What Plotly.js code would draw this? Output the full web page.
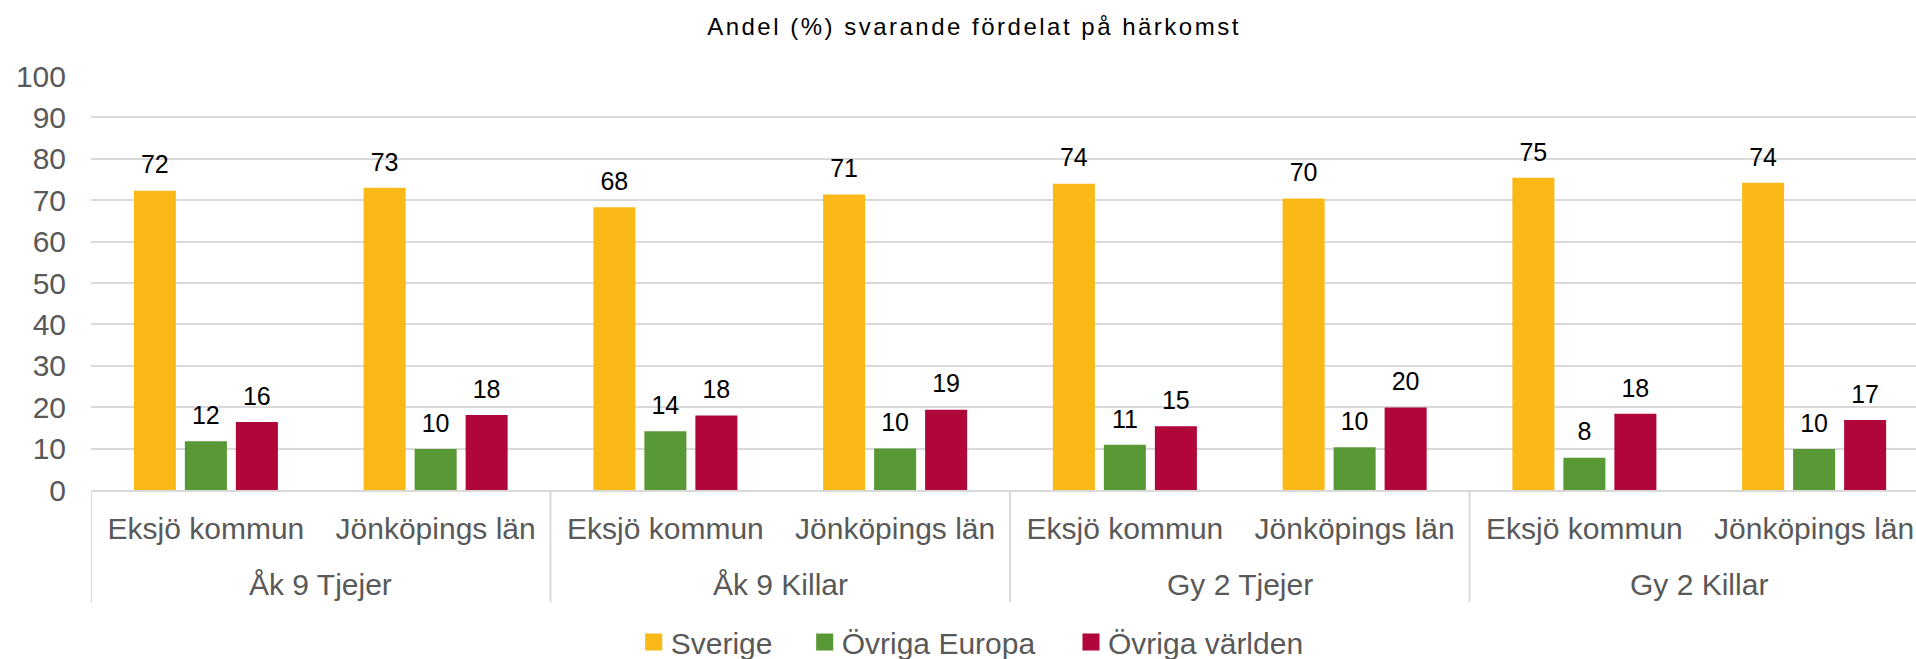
<!DOCTYPE html>
<html>
<head>
<meta charset="utf-8">
<script src="https://cdn.plot.ly/plotly-3.0.1.min.js"></script>
<style>
  html, body { margin: 0; padding: 0; background: #fff; }
  #chart { width: 1916px; height: 659px; }
  .gtitle { letter-spacing: 2.5px; }
  .legendpoints path { transform: translate(23px, 0px) scale(1.42); }
</style>
</head>
<body>
<div id="chart"></div>
<script>
// ---- data ----
const groups = ['Åk 9 Tjejer', 'Åk 9 Tjejer', 'Åk 9 Killar', 'Åk 9 Killar', 'Gy 2 Tjejer', 'Gy 2 Tjejer', 'Gy 2 Killar', 'Gy 2 Killar'];
const areas = ['Eksjö kommun', 'Jönköpings län', 'Eksjö kommun', 'Jönköpings län', 'Eksjö kommun', 'Jönköpings län', 'Eksjö kommun', 'Jönköpings län'];
const seriesNames = ['Sverige', 'Övriga Europa', 'Övriga världen'];
const sverige = [72.3, 73.0, 68.3, 71.4, 74.0, 70.4, 75.4, 74.2];
const ovrigaEuropa = [11.8, 9.9, 14.2, 10.0, 10.9, 10.3, 7.8, 9.9];
const ovrigaVarlden = [16.4, 18.1, 18.0, 19.4, 15.4, 19.9, 18.4, 16.9];
const colors = ['#FBB917', '#589935', '#B00639'];
const titleText = 'Andel (%) svarande fördelat på härkomst';

const FONT = 'Liberation Sans, Arial, sans-serif';
const values = [sverige, ovrigaEuropa, ovrigaVarlden];
const idx = areas.map((_, i) => i);

// group label positions and divider positions derived from the group array
const groupNames = [];
const groupIdx = {};
groups.forEach((g, i) => {
  if (!(g in groupIdx)) { groupIdx[g] = []; groupNames.push(g); }
  groupIdx[g].push(i);
});
const groupCenters = groupNames.map(g => groupIdx[g].reduce((a, b) => a + b, 0) / groupIdx[g].length);
const dividerPos = [-0.5];
groups.forEach((g, i) => { if (i > 0 && g !== groups[i - 1]) dividerPos.push(i - 0.5); });
dividerPos.push(groups.length - 0.5);

const legendX = [670.7, 841.7, 1108];
const traces = [];
values.forEach((v, i) => {
  traces.push({
    type: 'bar',
    name: seriesNames[i],
    x: idx,
    y: v,
    marker: { color: colors[i], line: { width: 0 } },
    legend: i === 0 ? 'legend' : 'legend' + (i + 1),
    hoverinfo: 'skip'
  });
});
values.forEach((v, i) => {
  traces.push({
    type: 'scatter',
    mode: 'markers+text',
    x: idx,
    y: v,
    text: v.map(d => String(Math.round(d))),
    textposition: 'top center',
    textfont: { family: FONT, size: 25, color: '#000000' },
    marker: { size: 16, opacity: 0, color: colors[i] },
    showlegend: false,
    hoverinfo: 'skip',
    cliponaxis: false
  });
});

function legendCfg(textStart) {
  return {
    orientation: 'h',
    x: (textStart - 40) / 1916, xref: 'container', xanchor: 'left',
    y: 17 / 659, yref: 'container', yanchor: 'middle',
    font: { family: FONT, size: 30, color: '#595959' },
    bgcolor: 'rgba(0,0,0,0)',
    itemwidth: 30
  };
}

const annotations = groupNames.map((g, k) => ({
  text: g,
  x: groupCenters[k], xref: 'x',
  y: 0, yref: 'paper',
  yanchor: 'top', xanchor: 'center',
  yshift: -76,
  showarrow: false,
  font: { family: FONT, size: 30, color: '#595959' }
}));

const shapes = dividerPos.map(p => ({
  type: 'line',
  xref: 'x', x0: p, x1: p,
  yref: 'paper', ysizemode: 'pixel', yanchor: 0, y0: 0, y1: -112,
  line: { color: '#d9d9d9', width: 2 },
  layer: 'above'
}));

const layout = {
  width: 1916,
  height: 659,
  margin: { l: 91, r: 0, t: 76, b: 168.5 },
  paper_bgcolor: '#ffffff',
  plot_bgcolor: '#ffffff',
  font: { family: FONT, color: '#595959', size: 30 },
  title: {
    text: titleText,
    font: { family: FONT, size: 24, color: '#000000' },
    x: 974 / 1916, xref: 'container', xanchor: 'center',
    y: 1 - 18 / 659, yref: 'container', yanchor: 'top'
  },
  barmode: 'group',
  bargap: 0.334,
  bargroupgap: 0.176,
  scattermode: 'group',
  scattergap: 0.334,
  showlegend: true,
  legend: legendCfg(legendX[0]),
  legend2: legendCfg(legendX[1]),
  legend3: legendCfg(legendX[2]),
  annotations: annotations,
  shapes: shapes,
  xaxis: {
    type: 'linear',
    range: [-0.5, -0.5 + (1916 - 91) / ((1929 - 91) / 8)],
    tickvals: idx,
    ticktext: areas,
    showgrid: false,
    zeroline: false,
    showline: true,
    linecolor: '#d9d9d9',
    linewidth: 2,
    ticks: '',
    ticklabelstandoff: 11,
    tickfont: { family: FONT, size: 30, color: '#595959' },
    fixedrange: true
  },
  yaxis: {
    range: [0, 100],
    dtick: 10,
    tick0: 0,
    showgrid: true,
    gridcolor: '#d9d9d9',
    gridwidth: 2,
    zeroline: false,
    showline: false,
    ticks: '',
    ticklabelstandoff: 24,
    tickfont: { family: FONT, size: 30, color: '#595959' },
    fixedrange: true
  }
};

Plotly.newPlot('chart', traces, layout, { displayModeBar: false, staticPlot: true });
</script>
</body>
</html>
